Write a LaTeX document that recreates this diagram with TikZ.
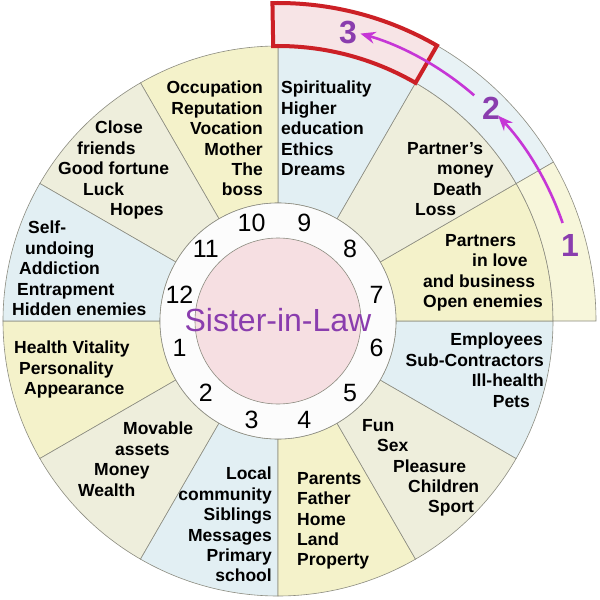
\documentclass[tikz,border=0pt]{standalone}
\usepackage{fontspec}
\setmainfont{Liberation Sans}
\usetikzlibrary{arrows.meta}
\definecolor{hyel}{HTML}{F4F2CA}
\definecolor{hbei}{HTML}{EEEEDC}
\definecolor{hblu}{HTML}{E2EFF3}
\definecolor{hpink}{HTML}{F6DFE2}
\definecolor{hred}{HTML}{CC2026}
\definecolor{hpurple}{HTML}{8A3DAE}
\definecolor{hmag}{HTML}{C636D6}
\definecolor{linegray}{HTML}{8C8C80}
\tikzset{
  house/.style={draw=linegray,line width=0.6pt},
  htext/.style={inner sep=0pt,font=\bfseries\fontsize{17.5}{20.4}\selectfont},
  hnum/.style={font=\fontsize{25}{25}\selectfont},
  onum/.style={font=\bfseries\fontsize{32}{32}\selectfont,text=hpurple},
  marr/.style={draw=hmag,line width=2.6pt,-{Stealth[length=15pt,width=12pt]}}
}
\begin{document}
\begin{tikzpicture}[x=1pt,y=1pt]
	\def\myrin{118}\def\myrout{275}\def\myrext{318}\def\myrpink{83}\def\myrnum{102}
	\useasboundingbox (-278,-279) rectangle (322,321);
	\fill[white] (-278,-279) rectangle (322,321);
	\foreach \k/\col in {1/hyel,2/hbei,3/hblu,4/hyel,5/hbei,6/hblu,7/hyel,8/hbei,9/hblu,10/hyel,11/hbei,12/hblu}
		\filldraw[house,fill=\col] ({150+30*\k}:\myrin) arc[start angle={150+30*\k},delta angle=30,radius=\myrin]
		-- ({180+30*\k}:\myrout) arc[start angle={180+30*\k},delta angle=-30,radius=\myrout] -- cycle;
	\filldraw[house,fill=hyel!70!white] (0:\myrout) arc[start angle=0,end angle=30,radius=\myrout]
		-- (30:\myrext) arc[start angle=30,end angle=0,radius=\myrext] -- cycle;
	\filldraw[house,fill=hblu!80!white] (30:\myrout) arc[start angle=30,end angle=60,radius=\myrout]
		-- (60:\myrext) arc[start angle=60,end angle=30,radius=\myrext] -- cycle;
	\filldraw[draw=hred,line width=4pt,fill=hpink!85!white] (60:\myrout) arc[start angle=60,end angle=91,radius=\myrout]
		-- (91:\myrext) arc[start angle=91,end angle=60,radius=\myrext] -- cycle;
	\filldraw[house,fill=white!98!gray] (0,0) circle (\myrin);
	\filldraw[house,fill=hpink] (0,0) circle (\myrpink);
	\foreach \k in {1,...,12}
		\node[hnum] (n\k) at ({165+30*\k}:\myrnum) {\k};
	\node[font=\fontsize{32}{32}\selectfont,text=hpurple] (title) at (0,1) {Sister-in-Law};
	\node[htext,anchor=north east,align=right] (h10) at (-15,240) {Occupation\\Reputation\\Vocation\\Mother\\The\\boss};
	\node[htext,anchor=north west,align=left] (h9) at (3,240) {Spirituality\\Higher\\education\\Ethics\\Dreams};
	\node[htext,anchor=north west,align=left] (h11) at (-220,200) {\hspace*{37pt}Close\\\hspace*{19pt}friends\\Good fortune\\\hspace*{25pt}Luck\\\hspace*{52pt}Hopes};
	\node[htext,anchor=north west,align=left] (h12) at (-266,100) {\hspace*{16pt}Self-\\\hspace*{13pt}undoing\\\hspace*{7pt}Addiction\\\hspace*{5pt}Entrapment\\Hidden enemies};
	\node[htext,anchor=north west,align=left] (h1) at (-264,-20) {Health Vitality\\\hspace*{5pt}Personality\\\hspace*{10pt}Appearance};
	\node[htext,anchor=north west,align=left] (h2) at (-200,-101) {\hspace*{45pt}Movable\\\hspace*{37pt}assets\\\hspace*{16pt}Money\\Wealth};
	\node[htext,anchor=north east,align=right] (h3) at (-6,-146) {Local\\community\\Siblings\\Messages\\Primary\\school};
	\node[htext,anchor=north west,align=left] (h4) at (19,-151) {Parents\\Father\\Home\\Land\\Property};
	\node[htext,anchor=north west,align=left] (h5) at (84,-98) {Fun\\\hspace*{15pt}Sex\\\hspace*{31pt}Pleasure\\\hspace*{46pt}Children\\\hspace*{66pt}Sport};
	\node[htext,anchor=north east,align=right] (h6) at (266,-12) {Employees\hspace*{1pt}\\Sub-Contractors\\Ill-health\hspace*{3pt}\\Pets\hspace*{14pt}};
	\node[htext,anchor=north west,align=left] (h7) at (145,87) {\hspace*{22pt}Partners\\\hspace*{49pt}in love\\and business\\Open enemies};
	\node[htext,anchor=north west,align=left] (h8) at (129,179) {Partner’s\\\hspace*{30pt}money\\\hspace*{26pt}Death\\\hspace*{8pt}Loss};
	\node[onum] (o1) at (292,76) {1};
	\node[onum] (o2) at (213,213) {2};
	\node[onum] (o3) at (70,288) {3};
	\coordinate (arcA) at (19:301);
	\coordinate (arcB) at (49:299);
	\draw[marr] (arcA) arc[start angle=19,end angle=43,radius=301];
	\draw[marr] (arcB) arc[start angle=49,end angle=74,radius=299];
\end{tikzpicture}
\end{document}
